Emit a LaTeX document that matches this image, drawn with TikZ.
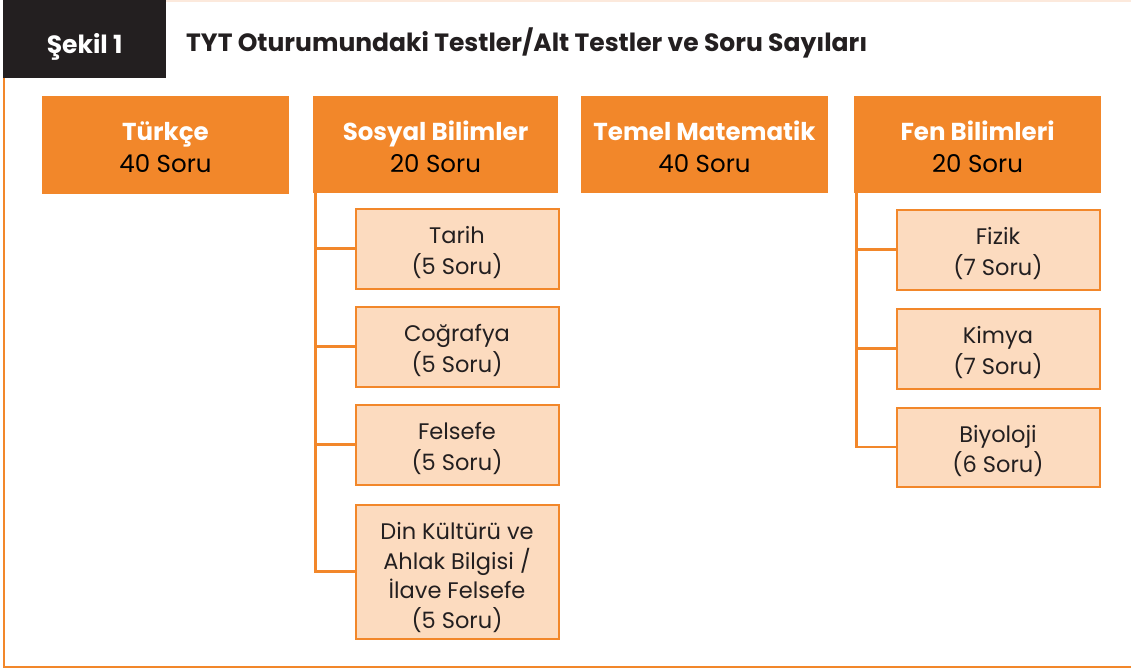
\documentclass[tikz,border=0pt]{standalone}
\usepackage{fontspec}
\setmainfont{Poppins}
\definecolor{org}{HTML}{F2872A}
\definecolor{peach}{HTML}{FCDBBF}
\definecolor{dark}{HTML}{231F20}
\definecolor{faint}{HTML}{FCE9DC}
\newcommand\cellstack[2]{\raisebox{0pt}[\dimexpr\height+#1\relax][\depth]{\begin{tabular}{@{}c@{}}#2\end{tabular}}}
\begin{document}
\begin{tikzpicture}[x=1pt,y=-1pt,
  headbox/.style={fill=org,minimum width=247pt,minimum height=97pt,inner sep=0pt,font=\fontsize{24.5}{32}\selectfont},
  subbox/.style={fill=peach,draw=org,line width=2pt,minimum width=203pt,inner sep=0pt,font=\fontsize{22.5}{30}\selectfont,text=dark},
  conn/.style={draw=org,line width=2.6pt}]
\useasboundingbox (0,0) rectangle (1131,671);
\fill[white] (0,0) rectangle (1131,671);
% frame
\draw[faint,line width=1.5pt] (166,0.8) -- (1131,0.8);
\draw[org,line width=1.8pt] (3.8,78) -- (3.8,667) -- (1131,667);
\node[fill=dark,minimum width=163pt,minimum height=78pt,inner sep=0pt,anchor=north west,text=white,font=\bfseries\fontsize{25}{28}\selectfont] (sekil) at (3,0) {\cellstack{16pt}{Şekil 1}};
\node[anchor=west,inner sep=0pt,text=dark,font=\bfseries\fontsize{25}{28}\selectfont] (title) at (186,43) {TYT Oturumundaki Testler/Alt Testler ve Soru Sayıları};
% head boxes
\node[headbox] (tur) at (165.5,145) {\cellstack{11pt}{\textcolor{white}{\bfseries Türkçe}\\\textcolor{black}{40 Soru}}};
\node[headbox,minimum width=245pt] (sos) at (435.5,144.5) {\cellstack{11pt}{\textcolor{white}{\bfseries Sosyal Bilimler}\\\textcolor{black}{20 Soru}}};
\node[headbox] (tem) at (704.5,144.5) {\cellstack{11pt}{\textcolor{white}{\bfseries Temel Matematik}\\\textcolor{black}{40 Soru}}};
\node[headbox] (fen) at (977.5,144.5) {\cellstack{11pt}{\textcolor{white}{\bfseries Fen Bilimleri}\\\textcolor{black}{20 Soru}}};
% sosyal sub boxes
\node[subbox,minimum height=80pt] (tar) at (457,248.5) {\cellstack{9pt}{Tarih\\(5 Soru)}};
\node[subbox,minimum height=80pt] (cog) at (457,346.5) {\cellstack{9pt}{Coğrafya\\(5 Soru)}};
\node[subbox,minimum height=80pt] (fel) at (457,444.5) {\cellstack{9pt}{Felsefe\\(5 Soru)}};
\node[subbox,minimum height=134pt,font=\fontsize{22.5}{29.3}\selectfont] (din) at (457,571.5) {\cellstack{13pt}{Din Kültürü ve\\Ahlak Bilgisi /\\İlave Felsefe\\(5 Soru)}};
% fen sub boxes
\node[subbox,minimum height=80pt] (fiz) at (998,249.5) {\cellstack{9pt}{Fizik\\(7 Soru)}};
\node[subbox,minimum height=80pt] (kim) at (998,348.5) {\cellstack{9pt}{Kimya\\(7 Soru)}};
\node[subbox,minimum height=79pt] (biy) at (998,447) {\cellstack{9pt}{Biyoloji\\(6 Soru)}};
% connectors
\coordinate (sa) at ([xshift=2.5pt]sos.south west);
\coordinate (fa) at ([xshift=2.5pt]fen.south west);
\draw[conn] (sa) |- (din.west);
\draw[conn] (sa) |- (tar.west);
\draw[conn] (sa) |- (cog.west);
\draw[conn] (sa) |- (fel.west);
\draw[conn] (fa) |- (biy.west);
\draw[conn] (fa) |- (fiz.west);
\draw[conn] (fa) |- (kim.west);
\end{tikzpicture}
\end{document}
